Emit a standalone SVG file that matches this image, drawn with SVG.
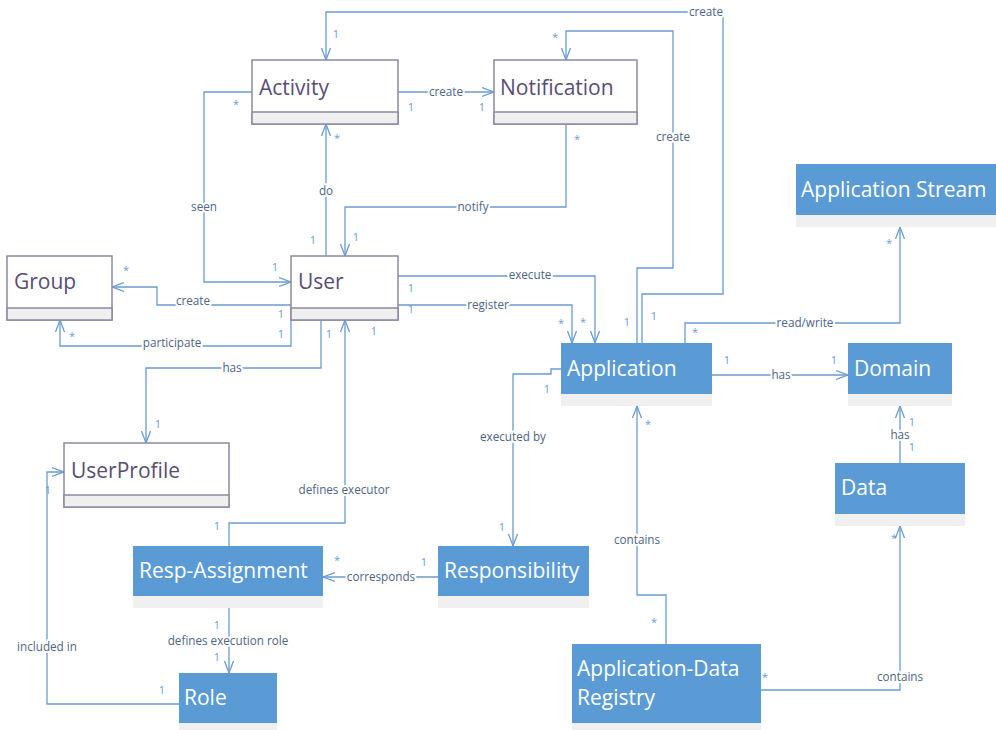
<svg xmlns="http://www.w3.org/2000/svg" width="996" height="730" viewBox="0 0 996 730">
<style>
.wb{fill:#fff;stroke:#8f89a3;stroke-width:1.5}
.wc{fill:#efefef;stroke:#8f89a3;stroke-width:1.5}
.bb{fill:#5b9bd5}
.bc{fill:#f0f0f0}
.wt{font-family:"Open Sans","Liberation Sans",sans-serif;font-size:21px;fill:#5a4d72}
.bt{font-family:"Open Sans","Liberation Sans",sans-serif;font-size:21px;fill:#fff}
.cn{fill:none;stroke:#6a9bd1;stroke-width:1.3}
.lb{font-family:"Open Sans","Liberation Sans",sans-serif;font-size:11.7px;fill:#4f6585;text-anchor:middle;paint-order:stroke;stroke:#fff;stroke-width:4px;stroke-linejoin:round}
.m{font-family:"Open Sans","Liberation Sans",sans-serif;font-size:11px;fill:#6b9bd2;text-anchor:middle}
</style>
<defs>
<marker id="ar" markerUnits="userSpaceOnUse" markerWidth="14" markerHeight="12" refX="12" refY="5" orient="auto" viewBox="0 0 14 10">
<path d="M0,0.5 L12,5 L0,9.5" fill="none" stroke="#6a9bd1" stroke-width="1.3"/>
</marker>
</defs>
<rect width="996" height="730" fill="#fff"/>

<g id="connectors">
<path class="cn" d="M642,343 V294 H723 V12 H326 V60" marker-end="url(#ar)"/>
<path class="cn" d="M637,343 V268 H673 V31 H566 V60" marker-end="url(#ar)"/>
<path class="cn" d="M398,92 H494" marker-end="url(#ar)"/>
<path class="cn" d="M252,92 H204 V282 H291" marker-end="url(#ar)"/>
<path class="cn" d="M326,256 V124" marker-end="url(#ar)"/>
<path class="cn" d="M566,124 V207 H345 V256" marker-end="url(#ar)"/>
<path class="cn" d="M291,305 H157 V287 H112" marker-end="url(#ar)"/>
<path class="cn" d="M291,320 V346 H60 V320" marker-end="url(#ar)"/>
<path class="cn" d="M321,320 V368 H146 V443" marker-end="url(#ar)"/>
<path class="cn" d="M229,546 V523 H345 V320" marker-end="url(#ar)"/>
<path class="cn" d="M398,276 H595 V343" marker-end="url(#ar)"/>
<path class="cn" d="M398,305 H572 V343" marker-end="url(#ar)"/>
<path class="cn" d="M685,343 V323 H900 V227" marker-end="url(#ar)"/>
<path class="cn" d="M712,375 H848" marker-end="url(#ar)"/>
<path class="cn" d="M900,463 V406" marker-end="url(#ar)"/>
<path class="cn" d="M561,369 H551 V374 H513 V546" marker-end="url(#ar)"/>
<path class="cn" d="M438,577 H323" marker-end="url(#ar)"/>
<path class="cn" d="M229,608 V673" marker-end="url(#ar)"/>
<path class="cn" d="M179,704 H47 V472 H64" marker-end="url(#ar)"/>
<path class="cn" d="M666,644 V595 H637 V406" marker-end="url(#ar)"/>
<path class="cn" d="M761,690 H900 V526" marker-end="url(#ar)"/>

<text class="lb" x="706" y="16">create</text>
<text class="lb" x="673" y="141">create</text>
<text class="lb" x="446" y="96">create</text>
<text class="lb" x="204" y="211">seen</text>
<text class="lb" x="326" y="195">do</text>
<text class="lb" x="473" y="211">notify</text>
<text class="lb" x="193" y="305">create</text>
<text class="lb" x="172" y="347">participate</text>
<text class="lb" x="232" y="372">has</text>
<text class="lb" x="344" y="494">defines executor</text>
<text class="lb" x="530" y="279">execute</text>
<text class="lb" x="488" y="309">register</text>
<text class="lb" x="805" y="327">read/write</text>
<text class="lb" x="781" y="379">has</text>
<text class="lb" x="900" y="439">has</text>
<text class="lb" x="513" y="441">executed by</text>
<text class="lb" x="381" y="581">corresponds</text>
<text class="lb" x="228" y="645">defines execution role</text>
<text class="lb" x="47" y="651">included in</text>
<text class="lb" x="637" y="544">contains</text>
<text class="lb" x="900" y="681">contains</text>

<text class="m" x="336" y="38">1</text>
<text class="m" x="627" y="326">1</text>
<text class="m" x="654" y="320">1</text>
<text class="m" x="555" y="41">*</text>
<text class="m" x="411" y="111">1</text>
<text class="m" x="482" y="111">1</text>
<text class="m" x="236" y="108">*</text>
<text class="m" x="275" y="271">1</text>
<text class="m" x="337" y="142">*</text>
<text class="m" x="313" y="244">1</text>
<text class="m" x="577" y="143">*</text>
<text class="m" x="356" y="241">1</text>
<text class="m" x="126" y="274">*</text>
<text class="m" x="281" y="318">1</text>
<text class="m" x="72" y="340">*</text>
<text class="m" x="281" y="338">1</text>
<text class="m" x="329" y="338">1</text>
<text class="m" x="158" y="428">1</text>
<text class="m" x="217" y="530">1</text>
<text class="m" x="374" y="335">1</text>
<text class="m" x="411" y="292">1</text>
<text class="m" x="583" y="326">*</text>
<text class="m" x="411" y="313">1</text>
<text class="m" x="561" y="327">*</text>
<text class="m" x="695" y="336">*</text>
<text class="m" x="889" y="247">*</text>
<text class="m" x="727" y="364">1</text>
<text class="m" x="834" y="364">1</text>
<text class="m" x="912" y="426">1</text>
<text class="m" x="912" y="451">1</text>
<text class="m" x="547" y="393">1</text>
<text class="m" x="502" y="531">1</text>
<text class="m" x="337" y="564">*</text>
<text class="m" x="424" y="566">1</text>
<text class="m" x="217" y="629">1</text>
<text class="m" x="217" y="661">1</text>
<text class="m" x="48" y="494">1</text>
<text class="m" x="162" y="694">1</text>
<text class="m" x="654" y="626">*</text>
<text class="m" x="648" y="428">*</text>
<text class="m" x="765" y="681">*</text>
<text class="m" x="894" y="542">*</text>
</g>

<g id="activity">
<rect class="wb" x="252" y="60" width="146" height="64"/>
<rect class="wc" x="252" y="112" width="146" height="12"/>
<text class="wt" x="259" y="95">Activity</text>
</g>
<g id="notification">
<rect class="wb" x="494" y="60" width="143" height="64"/>
<rect class="wc" x="494" y="112" width="143" height="12"/>
<text class="wt" x="500" y="95">Notification</text>
</g>
<g id="group">
<rect class="wb" x="7" y="256" width="105" height="64"/>
<rect class="wc" x="7" y="308" width="105" height="12"/>
<text class="wt" x="14" y="289">Group</text>
</g>
<g id="user">
<rect class="wb" x="291" y="256" width="107" height="64"/>
<rect class="wc" x="291" y="308" width="107" height="12"/>
<text class="wt" x="298" y="289">User</text>
</g>
<g id="userprofile">
<rect class="wb" x="64" y="443" width="165" height="64"/>
<rect class="wc" x="64" y="495" width="165" height="12"/>
<text class="wt" x="71" y="478">UserProfile</text>
</g>
<g id="appstream">
<rect class="bb" x="796" y="164" width="200" height="51"/>
<rect class="bc" x="796" y="215" width="200" height="12"/>
<text class="bt" x="801" y="197">Application Stream</text>
</g>
<g id="application">
<rect class="bb" x="561" y="343" width="151" height="51"/>
<rect class="bc" x="561" y="394" width="151" height="12"/>
<text class="bt" x="567" y="376">Application</text>
</g>
<g id="domain">
<rect class="bb" x="848" y="343" width="104" height="51"/>
<rect class="bc" x="848" y="394" width="104" height="12"/>
<text class="bt" x="854" y="376">Domain</text>
</g>
<g id="data">
<rect class="bb" x="835" y="463" width="130" height="51"/>
<rect class="bc" x="835" y="514" width="130" height="12"/>
<text class="bt" x="841" y="495">Data</text>
</g>
<g id="respassignment">
<rect class="bb" x="133" y="546" width="190" height="50"/>
<rect class="bc" x="133" y="596" width="190" height="12"/>
<text class="bt" x="139" y="578">Resp-Assignment</text>
</g>
<g id="responsibility">
<rect class="bb" x="438" y="546" width="151" height="50"/>
<rect class="bc" x="438" y="596" width="151" height="12"/>
<text class="bt" x="444" y="578">Responsibility</text>
</g>
<g id="role">
<rect class="bb" x="179" y="673" width="98" height="50"/>
<rect class="bc" x="179" y="723" width="98" height="12"/>
<text class="bt" x="184" y="705">Role</text>
</g>
<g id="adregistry">
<rect class="bb" x="572" y="644" width="189" height="79"/>
<rect class="bc" x="572" y="723" width="189" height="12"/>
<text class="bt" x="577" y="676">Application-Data</text>
<text class="bt" x="577" y="705">Registry</text>
</g>
</svg>
